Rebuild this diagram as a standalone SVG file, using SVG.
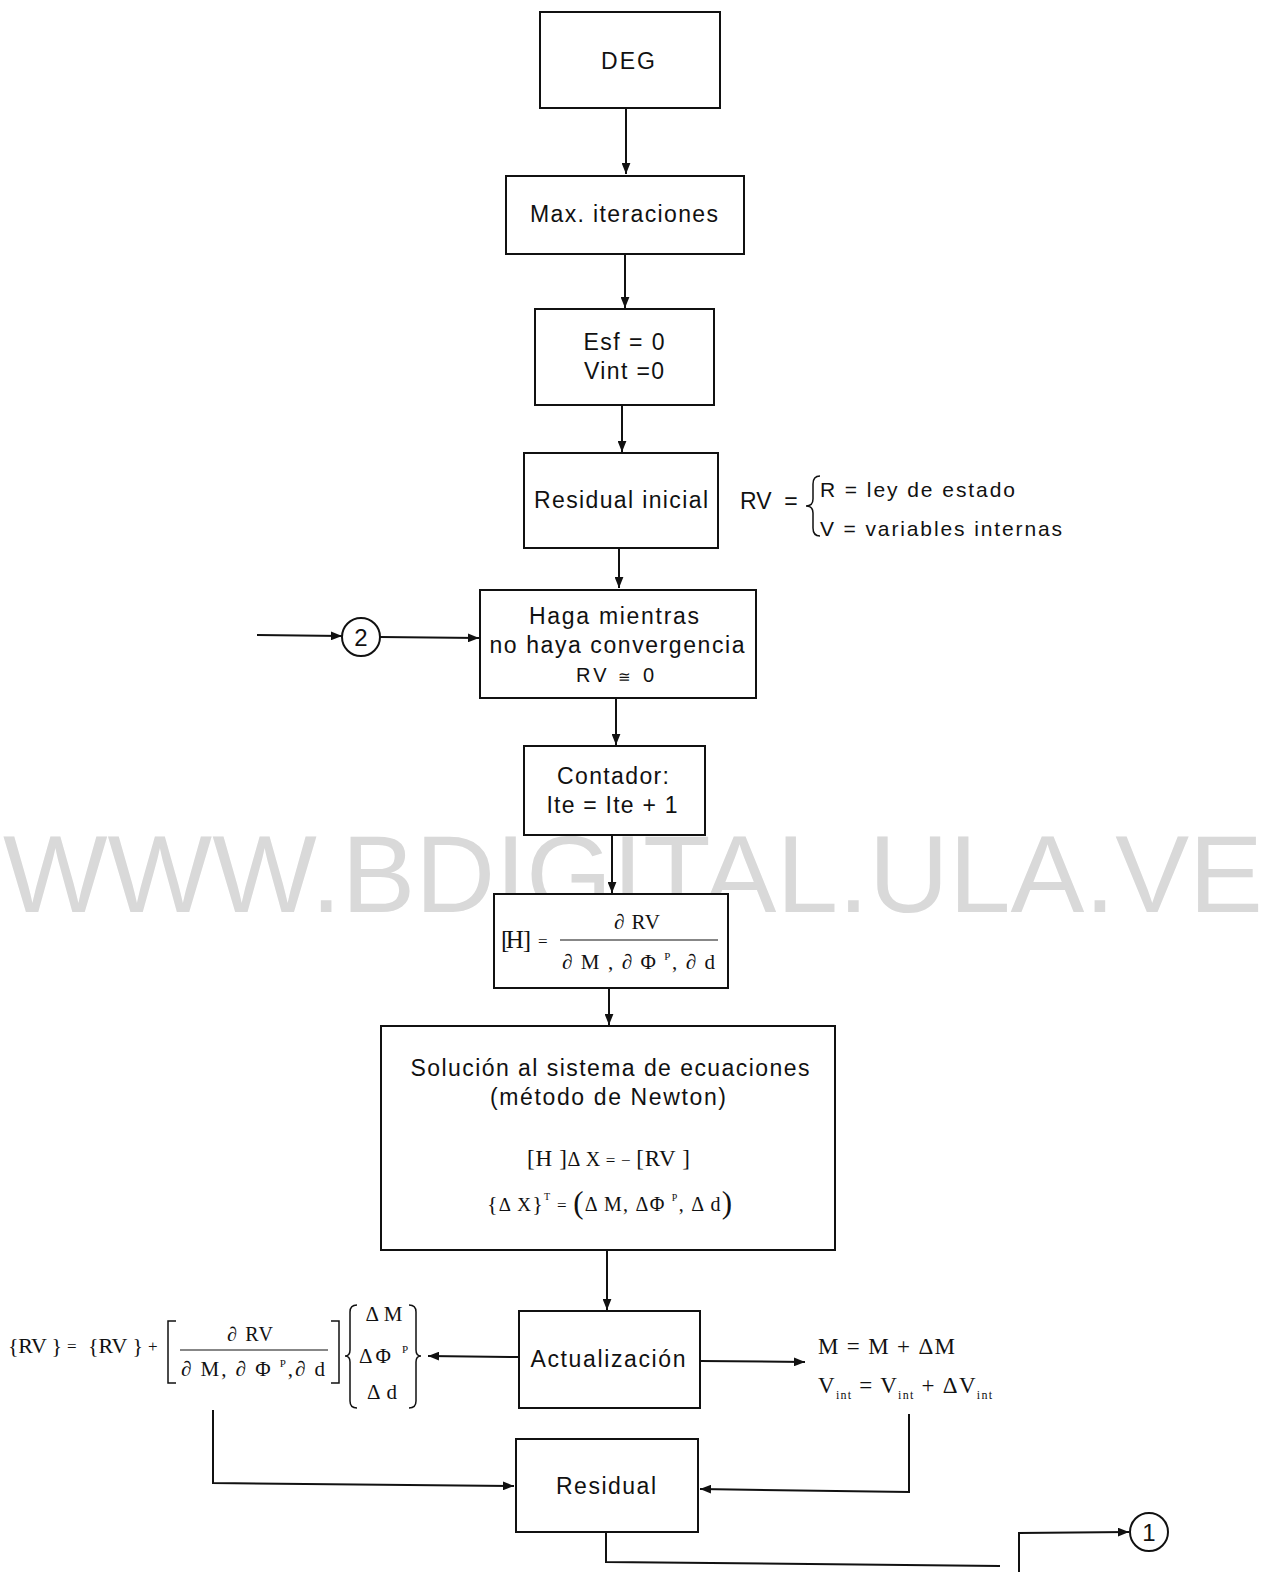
<svg xmlns="http://www.w3.org/2000/svg" width="1269" height="1572" viewBox="0 0 1269 1572">
  <style>
    .box { fill: #ffffff; stroke: #111111; stroke-width: 2; }
    .lbl { font-family: "Liberation Sans", Arial, sans-serif; font-size: 23px; fill: #111111; text-anchor: middle; }
    .math { font-family: "Liberation Serif", "DejaVu Serif", serif; font-size: 21px; fill: #111111; }
    .sup { font-size: 11px; }
    .sub { font-size: 12px; }
    .wire { fill: none; stroke: #111111; stroke-width: 2; }
    .thin { fill: none; stroke: #111111; stroke-width: 1.5; }
    .mark { font-family: "Liberation Sans", Arial, sans-serif; font-size: 110px; fill: #d9d9d9; }
  </style>
  <defs>
    <marker id="arr" viewBox="0 0 10 8" refX="10" refY="4" markerWidth="11" markerHeight="9" orient="auto" markerUnits="userSpaceOnUse">
      <path d="M0,0 L10,4 L0,8 z" fill="#111111"/>
    </marker>
  </defs>

  <rect x="0" y="0" width="1269" height="1572" fill="#ffffff"/>

  <!-- background watermark -->
  <text class="mark" x="3" y="912" textLength="1260" lengthAdjust="spacingAndGlyphs">WWW.BDIGITAL.ULA.VE</text>

  <!-- connectors -->
  <g id="connectors">
    <line class="wire" x1="626" y1="108" x2="626" y2="174" marker-end="url(#arr)"/>
    <line class="wire" x1="625" y1="254" x2="625" y2="308" marker-end="url(#arr)"/>
    <line class="wire" x1="622" y1="405" x2="622" y2="452" marker-end="url(#arr)"/>
    <line class="wire" x1="619" y1="548" x2="619" y2="588" marker-end="url(#arr)"/>
    <line class="wire" x1="616" y1="698" x2="616" y2="745" marker-end="url(#arr)"/>
    <line class="wire" x1="612" y1="835" x2="612" y2="893" marker-end="url(#arr)"/>
    <line class="wire" x1="609" y1="988" x2="609" y2="1025" marker-end="url(#arr)"/>
    <line class="wire" x1="607" y1="1250" x2="607" y2="1310" marker-end="url(#arr)"/>
    <!-- entry to the loop through connector 2 -->
    <line class="wire" x1="257" y1="635" x2="342" y2="636" marker-end="url(#arr)"/>
    <line class="wire" x1="380" y1="637" x2="479" y2="638" marker-end="url(#arr)"/>
    <!-- update outputs -->
    <line class="wire" x1="519" y1="1357" x2="428" y2="1356" marker-end="url(#arr)"/>
    <line class="wire" x1="700" y1="1361" x2="805" y2="1362" marker-end="url(#arr)"/>
    <!-- feedback into Residual -->
    <polyline class="wire" points="213,1410 213,1483 514,1486" marker-end="url(#arr)"/>
    <polyline class="wire" points="909,1414 909,1492 700,1489" marker-end="url(#arr)"/>
    <!-- exit toward connector 1 -->
    <polyline class="wire" points="606,1532 606,1562 1000,1566"/>
    <polyline class="wire" points="1019,1572 1019,1533 1129,1532" marker-end="url(#arr)"/>
  </g>

  <g id="node-deg">
    <rect class="box" x="540" y="12" width="180" height="96"/>
    <text class="lbl" x="628" y="69" textLength="54" lengthAdjust="spacing">DEG</text>
  </g>

  <g id="node-max-iter">
    <rect class="box" x="506" y="176" width="238" height="78"/>
    <text class="lbl" x="624" y="222" textLength="188" lengthAdjust="spacing">Max. iteraciones</text>
  </g>

  <g id="node-init">
    <rect class="box" x="535" y="309" width="179" height="96"/>
    <text class="lbl" x="624" y="350" textLength="81" lengthAdjust="spacing">Esf = 0</text>
    <text class="lbl" x="624" y="379" textLength="80" lengthAdjust="spacing">Vint =0</text>
  </g>

  <g id="node-residual-inicial">
    <rect class="box" x="524" y="453" width="194" height="95"/>
    <text class="lbl" x="621" y="508" textLength="174" lengthAdjust="spacing">Residual inicial</text>
  </g>

  <!-- definition of RV -->
  <g id="rv-definition">
    <text class="lbl" x="740" y="509" style="text-anchor:start">RV</text>
    <text class="lbl" x="791" y="509">=</text>
    <path class="thin" d="M820,476 Q813,476 813,484 L813,499 Q813,506 806,506 Q813,506 813,513 L813,528 Q813,536 820,536"/>
    <text class="lbl" x="820" y="497" style="text-anchor:start;font-size:21px" textLength="195" lengthAdjust="spacing">R = ley de estado</text>
    <text class="lbl" x="820" y="536" style="text-anchor:start;font-size:21px" textLength="242" lengthAdjust="spacing">V = variables  internas</text>
  </g>

  <g id="connector-2">
    <circle cx="361" cy="637" r="19" fill="#ffffff" stroke="#111111" stroke-width="2"/>
    <text class="lbl" x="361" y="646" style="font-size:24px">2</text>
  </g>

  <g id="node-loop">
    <rect class="box" x="480" y="590" width="276" height="108"/>
    <text class="lbl" x="614" y="624" textLength="170" lengthAdjust="spacing">Haga mientras</text>
    <text class="lbl" x="617" y="653" textLength="255" lengthAdjust="spacing">no haya convergencia</text>
    <text class="lbl" x="615" y="682" style="font-size:20px" textLength="78" lengthAdjust="spacing">RV <tspan style="font-size:15px">≅</tspan> 0</text>
  </g>

  <g id="node-counter">
    <rect class="box" x="524" y="746" width="181" height="89"/>
    <text class="lbl" x="613" y="784" textLength="112" lengthAdjust="spacing">Contador:</text>
    <text class="lbl" x="612" y="813" textLength="131" lengthAdjust="spacing">Ite = Ite + 1</text>
  </g>

  <g id="node-hessian">
    <rect class="box" x="494" y="894" width="234" height="94"/>
    <text class="math" x="501" y="948" style="font-size:25px" textLength="30" lengthAdjust="spacing">[H ]</text>
    <text class="math" x="538" y="947" style="font-size:17px">=</text>
    <text class="math" x="637" y="929" style="text-anchor:middle;font-size:21px" textLength="46" lengthAdjust="spacing">∂ RV</text>
    <line class="thin" x1="560" y1="940" x2="718" y2="940" style="stroke-width:1.2"/>
    <text class="math" x="562" y="969" style="font-size:21px" textLength="153" lengthAdjust="spacing">∂  M , ∂ Φ <tspan class="sup" dy="-9">P</tspan><tspan dy="9">, ∂ d</tspan></text>
  </g>

  <g id="node-solve">
    <rect class="box" x="381" y="1026" width="454" height="224"/>
    <text class="lbl" x="610" y="1076" textLength="399" lengthAdjust="spacing">Solución al sistema de ecuaciones</text>
    <text class="lbl" x="608" y="1105" textLength="236" lengthAdjust="spacing">(método de Newton)</text>
    <text class="math" x="527" y="1166" style="font-size:23px" textLength="163" lengthAdjust="spacing">[H ]<tspan style="font-size:20px">Δ X</tspan><tspan style="font-size:17px"> = − </tspan>[RV ]</text>
    <text class="math" x="487" y="1211" style="font-size:22px" textLength="245" lengthAdjust="spacing">{<tspan style="font-size:19px">Δ X</tspan>}<tspan class="sup" dy="-11" style="font-size:10px">T</tspan><tspan dy="11" style="font-size:17px"> = </tspan><tspan style="font-size:31px" dy="2">(</tspan><tspan dy="-2" style="font-size:20px">Δ M, ΔΦ </tspan><tspan class="sup" dy="-10" style="font-size:10px">P</tspan><tspan dy="10" style="font-size:20px">, Δ d</tspan><tspan style="font-size:31px" dy="2">)</tspan></text>
  </g>

  <g id="node-update">
    <rect class="box" x="519" y="1311" width="181" height="97"/>
    <text class="lbl" x="608" y="1367" textLength="155" lengthAdjust="spacing">Actualización</text>
  </g>

  <!-- residual update expression -->
  <g id="rv-update">
    <text class="math" x="8" y="1353" style="font-size:22px" textLength="54" lengthAdjust="spacing">{RV }</text>
    <text class="math" x="67" y="1352" style="font-size:17px">=</text>
    <text class="math" x="88" y="1353" style="font-size:22px" textLength="55" lengthAdjust="spacing">{RV }</text>
    <text class="math" x="148" y="1352" style="font-size:17px">+</text>
    <path class="thin" d="M176,1321 L168,1321 L168,1383 L176,1383"/>
    <text class="math" x="250" y="1341" style="text-anchor:middle;font-size:20px" textLength="46" lengthAdjust="spacing">∂ RV</text>
    <line class="thin" x1="180" y1="1350" x2="328" y2="1350" style="stroke-width:1.2"/>
    <text class="math" x="181" y="1376" style="font-size:21px" textLength="144" lengthAdjust="spacing">∂  M, ∂ Φ <tspan class="sup" dy="-9">P</tspan><tspan dy="9">,∂  d</tspan></text>
    <path class="thin" d="M331,1321 L339,1321 L339,1383 L331,1383"/>
    <path class="thin" d="M357,1305 Q350,1305 350,1312 L350,1350 Q350,1356 345,1356 Q350,1356 350,1362 L350,1401 Q350,1408 357,1408"/>
    <text class="math" x="384" y="1321" style="text-anchor:middle;font-size:21px" textLength="37" lengthAdjust="spacing">Δ M</text>
    <text class="math" x="359" y="1363" style="font-size:21px" textLength="49" lengthAdjust="spacing">ΔΦ <tspan class="sup" dy="-10">P</tspan></text>
    <text class="math" x="382" y="1399" style="text-anchor:middle;font-size:21px" textLength="30" lengthAdjust="spacing">Δ d</text>
    <path class="thin" d="M409,1305 Q416,1305 416,1312 L416,1350 Q416,1356 421,1356 Q416,1356 416,1362 L416,1401 Q416,1408 409,1408"/>
  </g>

  <!-- state update expression -->
  <g id="state-update">
    <text class="math" x="818" y="1354" style="font-size:23px" textLength="137" lengthAdjust="spacing">M  =  M  +  ΔM</text>
    <text class="math" x="818" y="1393" style="font-size:23px" textLength="174" lengthAdjust="spacing">V<tspan class="sub" dy="6">int</tspan><tspan dy="-6">  =  V</tspan><tspan class="sub" dy="6">int</tspan><tspan dy="-6">  + ΔV</tspan><tspan class="sub" dy="6">int</tspan></text>
  </g>

  <g id="node-residual">
    <rect class="box" x="516" y="1439" width="182" height="93"/>
    <text class="lbl" x="606" y="1494" textLength="100" lengthAdjust="spacing">Residual</text>
  </g>

  <g id="connector-1">
    <circle cx="1149" cy="1532" r="19" fill="#ffffff" stroke="#111111" stroke-width="2"/>
    <text class="lbl" x="1149" y="1541" style="font-size:24px">1</text>
  </g>
</svg>
